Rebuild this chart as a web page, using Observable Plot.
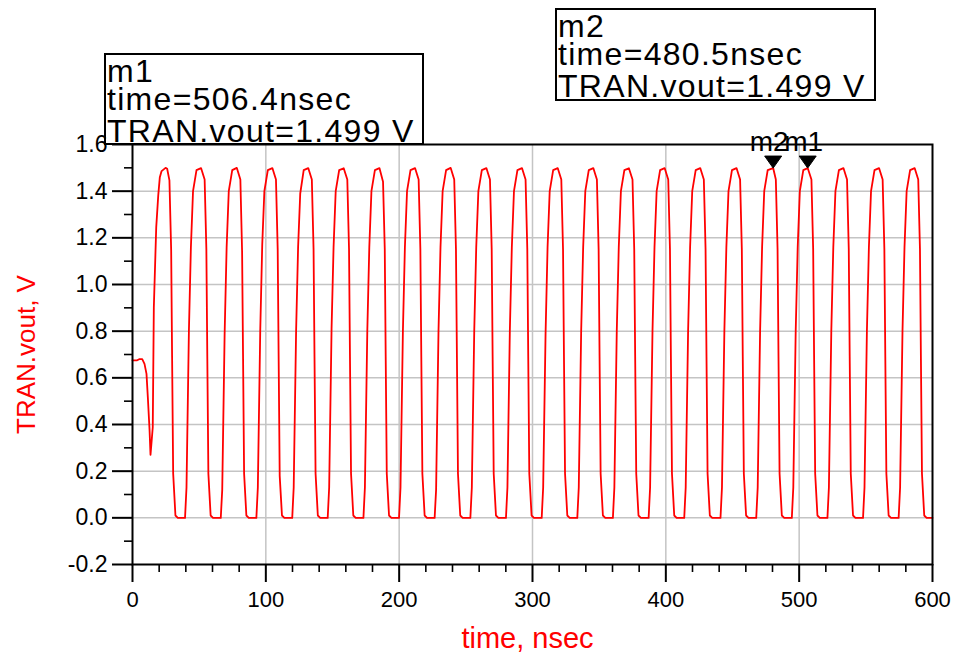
<!DOCTYPE html>
<html><head><meta charset="utf-8">
<script src="https://cdn.jsdelivr.net/npm/d3@7"></script>
<script src="https://cdn.jsdelivr.net/npm/@observablehq/plot@0.6"></script>
<style>
html,body{margin:0;padding:0;background:#fff;}
#wrap{position:relative;width:954px;height:655px;}
</style></head><body><div id="wrap"></div>
<script>
// ---- waveform samples (time in nsec, TRAN.vout in V) ----
const startTime = [0, 3.5, 5.0, 7.3, 9.0, 10.5, 11.5, 12.8, 13.5, 15.2, 16.0, 17.8, 19.3, 20.5, 21.8, 24.8, 26.0, 27.7, 29.0, 29.7, 30.5, 32.2, 34.0];
const startVout = [0.675, 0.675, 0.68, 0.68, 0.66, 0.617, 0.517, 0.374, 0.27, 0.388, 0.903, 1.246, 1.381, 1.46, 1.486, 1.50, 1.496, 1.446, 1.146, 0.688, 0.19, 0.01, 0.0];

const cycleTime = [
  39.4, 40.5, 42.3, 43.8, 45.4, 48.0, 51.4, 54.1, 55.4, 56.1, 56.9, 58.6, 60.4,
  66.2, 67.3, 69.1, 70.6, 72.2, 74.8, 78.2, 80.9, 82.2, 82.9, 83.7, 85.4, 87.2,
  92.9, 94.0, 95.8, 97.3, 98.9, 101.5, 104.9, 107.6, 108.9, 109.6, 110.4, 112.1, 113.9,
  119.8, 120.9, 122.7, 124.2, 125.8, 128.4, 131.8, 134.5, 135.8, 136.5, 137.3, 139.0, 140.8,
  146.4, 147.5, 149.3, 150.8, 152.4, 155.0, 158.4, 161.1, 162.4, 163.1, 163.9, 165.6, 167.4,
  173.2, 174.3, 176.1, 177.6, 179.2, 181.8, 185.2, 187.9, 189.2, 189.9, 190.7, 192.4, 194.2,
  199.9, 201.0, 202.8, 204.3, 205.9, 208.5, 211.9, 214.6, 215.9, 216.6, 217.4, 219.1, 220.9,
  226.6, 227.7, 229.5, 231.0, 232.6, 235.2, 238.6, 241.3, 242.6, 243.3, 244.1, 245.8, 247.6,
  253.4, 254.5, 256.3, 257.8, 259.4, 262.0, 265.4, 268.1, 269.4, 270.1, 270.9, 272.6, 274.4,
  280.1, 281.2, 283.0, 284.5, 286.1, 288.7, 292.1, 294.8, 296.1, 296.8, 297.6, 299.3, 301.1,
  306.9, 308.0, 309.8, 311.3, 312.9, 315.5, 318.9, 321.6, 322.9, 323.6, 324.4, 326.1, 327.9,
  333.6, 334.7, 336.5, 338.0, 339.6, 342.2, 345.6, 348.3, 349.6, 350.3, 351.1, 352.8, 354.6,
  360.3, 361.4, 363.2, 364.7, 366.3, 368.9, 372.3, 375.0, 376.3, 377.0, 377.8, 379.5, 381.3,
  387.1, 388.2, 390.0, 391.5, 393.1, 395.7, 399.1, 401.8, 403.1, 403.8, 404.6, 406.3, 408.1,
  413.8, 414.9, 416.7, 418.2, 419.8, 422.4, 425.8, 428.5, 429.8, 430.5, 431.3, 433.0, 434.8,
  441.0, 442.1, 443.9, 445.4, 447.0, 449.6, 453.0, 455.7, 457.0, 457.7, 458.5, 460.2, 462.0,
  467.8, 468.9, 470.7, 472.2, 473.8, 476.4, 480.5, 482.5, 483.8, 484.5, 485.3, 487.0, 488.8,
  494.5, 495.6, 497.4, 498.9, 500.5, 503.1, 506.4, 509.2, 510.5, 511.2, 512.0, 513.7, 515.5,
  521.2, 522.3, 524.1, 525.6, 527.2, 529.8, 533.2, 535.9, 537.2, 537.9, 538.7, 540.4, 542.2,
  547.9, 549.0, 550.8, 552.3, 553.9, 556.5, 559.9, 562.6, 563.9, 564.6, 565.4, 567.1, 568.9,
  574.6, 575.7, 577.5, 579.0, 580.6, 583.2, 586.6, 589.3, 590.6, 591.3, 592.1, 593.8, 595.6, 600.0
];
const cycleVout = [
  0, 0.13, 0.80, 1.16, 1.40, 1.49, 1.499, 1.45, 1.15, 0.69, 0.19, 0.01, 0,
  0, 0.12, 0.79, 1.16, 1.40, 1.49, 1.500, 1.45, 1.14, 0.70, 0.19, 0.01, 0,
  0, 0.13, 0.80, 1.17, 1.40, 1.49, 1.499, 1.45, 1.15, 0.69, 0.18, 0.01, 0,
  0, 0.13, 0.80, 1.16, 1.39, 1.49, 1.499, 1.45, 1.15, 0.69, 0.19, 0.01, 0,
  0, 0.13, 0.81, 1.16, 1.40, 1.49, 1.498, 1.45, 1.15, 0.69, 0.19, 0.01, 0,
  0, 0.13, 0.80, 1.16, 1.40, 1.49, 1.499, 1.44, 1.15, 0.69, 0.19, 0.01, 0,
  0, 0.13, 0.80, 1.16, 1.40, 1.49, 1.499, 1.45, 1.15, 0.69, 0.19, 0.01, 0,
  0, 0.12, 0.80, 1.16, 1.40, 1.49, 1.500, 1.45, 1.15, 0.70, 0.19, 0.01, 0,
  0, 0.13, 0.80, 1.16, 1.40, 1.49, 1.499, 1.45, 1.15, 0.69, 0.19, 0.01, 0,
  0, 0.13, 0.80, 1.16, 1.40, 1.49, 1.499, 1.45, 1.15, 0.69, 0.19, 0.01, 0,
  0, 0.13, 0.79, 1.16, 1.40, 1.49, 1.499, 1.45, 1.15, 0.69, 0.19, 0.01, 0,
  0, 0.13, 0.80, 1.16, 1.40, 1.49, 1.499, 1.45, 1.15, 0.69, 0.19, 0.01, 0,
  0, 0.13, 0.80, 1.16, 1.40, 1.49, 1.498, 1.45, 1.15, 0.69, 0.19, 0.01, 0,
  0, 0.13, 0.80, 1.16, 1.40, 1.49, 1.499, 1.45, 1.15, 0.69, 0.19, 0.01, 0,
  0, 0.13, 0.80, 1.16, 1.40, 1.49, 1.499, 1.45, 1.15, 0.69, 0.19, 0.01, 0,
  0, 0.13, 0.80, 1.16, 1.40, 1.49, 1.499, 1.45, 1.15, 0.69, 0.19, 0.01, 0,
  0, 0.13, 0.80, 1.16, 1.40, 1.49, 1.499, 1.45, 1.15, 0.69, 0.19, 0.01, 0,
  0, 0.13, 0.80, 1.16, 1.40, 1.49, 1.499, 1.45, 1.15, 0.69, 0.19, 0.01, 0,
  0, 0.13, 0.80, 1.16, 1.40, 1.49, 1.499, 1.45, 1.15, 0.69, 0.19, 0.01, 0,
  0, 0.13, 0.80, 1.16, 1.40, 1.49, 1.499, 1.45, 1.15, 0.69, 0.19, 0.01, 0,
  0, 0.13, 0.80, 1.16, 1.40, 1.49, 1.499, 1.45, 1.15, 0.69, 0.19, 0.01, 0, 0
];

// ---- markers ----
const markerNames = ["m1", "m2"];
const markerTimes = [506.4, 480.5];
const markerVouts = [1.499, 1.499];

// ---- ticks / text ----
const xTicks = [0, 100, 200, 300, 400, 500, 600];
const xMinorTicks = [20, 40, 60, 80, 120, 140, 160, 180, 220, 240, 260, 280, 320, 340, 360, 380, 420, 440, 460, 480, 520, 540, 560, 580];
const xGridLines = [100, 200, 300, 400, 500];
const yTicks = [-0.2, 0.0, 0.2, 0.4, 0.6, 0.8, 1.0, 1.2, 1.4, 1.6];
const yMinorTicks = [-0.1, 0.1, 0.3, 0.5, 0.7, 0.9, 1.1, 1.3, 1.5];
const yGridLines = [0.0, 0.2, 0.4, 0.6, 0.8, 1.0, 1.2, 1.4];
const xTitle = "time, nsec";
const yTitle = "TRAN.vout, V";

const timeNs = startTime.concat(cycleTime);
const voutV = startVout.concat(cycleVout);
const markers = markerNames.map((name, i) => ({name, t: markerTimes[i], v: markerVouts[i]}));

const FONT = "'Liberation Sans', Arial, Helvetica, sans-serif";
const GRID = "#c4c4c4";

const downTriangle = {
  draw(ctx) { ctx.moveTo(0, 0); ctx.lineTo(-8.5, -12); ctx.lineTo(8.5, -12); ctx.closePath(); }
};

const chart = Plot.plot({
  width: 954, height: 655,
  marginLeft: 132, marginRight: 22, marginTop: 144, marginBottom: 91,
  style: {fontFamily: FONT, background: "#fff", overflow: "visible"},
  x: {domain: [0, 600]},
  y: {domain: [-0.2, 1.6]},
  marks: [
    Plot.gridX(xGridLines, {stroke: GRID, strokeOpacity: 1, strokeWidth: 1.5}),
    Plot.gridY(yGridLines, {stroke: GRID, strokeOpacity: 1, strokeWidth: 1.5}),
    Plot.line(voutV, {x: timeNs, y: voutV, stroke: "#ff0000", strokeWidth: 1.8}),
    Plot.frame({stroke: "#000", strokeWidth: 2}),
    Plot.axisX(xMinorTicks, {tickSize: 8, text: null, stroke: "#000", strokeWidth: 1.6, label: null}),
    Plot.axisX(xTicks, {tickSize: 18, tickPadding: 9, stroke: "#000", strokeWidth: 2, fill: "#000", fontSize: 22, label: null, tickFormat: d => String(d)}),
    Plot.axisY(yMinorTicks, {tickSize: 8, text: null, stroke: "#000", strokeWidth: 1.6, label: null}),
    Plot.axisY(yTicks, {tickSize: 20, tickPadding: 5, stroke: "#000", strokeWidth: 2, fill: "#000", fontSize: 23, label: null, tickFormat: d => d.toFixed(1)}),
    Plot.text([xTitle], {frameAnchor: "bottom", textAnchor: "middle", lineAnchor: "middle", dy: 74, dx: -5, fill: "#ff0000", fontSize: 29, fontFamily: FONT}),
    Plot.text([yTitle], {frameAnchor: "left", textAnchor: "middle", lineAnchor: "middle", dx: -106, rotate: -90, fill: "#ff0000", fontSize: 26, fontFamily: FONT}),
    Plot.dot(markers, {x: "t", y: "v", symbol: downTriangle, fill: "#000", stroke: "#000", strokeWidth: 1}),
    Plot.text(markers, {x: "t", y: "v", text: "name", dy: -17, dx: -4, lineAnchor: "bottom", fontSize: 28, fill: "#000", fontFamily: FONT})
  ]
});

document.getElementById("wrap").appendChild(chart);

// ---- marker readout boxes (annotation layer) ----
const readoutLayout = {m1: {left: 105, top: 54, w: 318, h: 90}, m2: {left: 556, top: 9, w: 319, h: 91}};
const lineBaselines = [28, 56, 88];
const svg = d3.select(chart);
const g = svg.append("g").attr("font-family", FONT).attr("font-size", 32)
  .attr("letter-spacing", 1.3).attr("text-anchor", "start");
markers.forEach(m => {
  const b = readoutLayout[m.name];
  g.append("rect").attr("x", b.left).attr("y", b.top).attr("width", b.w).attr("height", b.h)
    .attr("fill", "none").attr("stroke", "#000").attr("stroke-width", 2);
  const lines = [m.name, `time=${m.t.toFixed(1)}nsec`, `TRAN.vout=${m.v.toFixed(3)} V`];
  lines.forEach((s, i) => {
    g.append("text").attr("x", b.left + 2).attr("y", b.top + lineBaselines[i])
      .attr("fill", "#000").attr("text-anchor", "start").text(s);
  });
});
</script></body></html>
